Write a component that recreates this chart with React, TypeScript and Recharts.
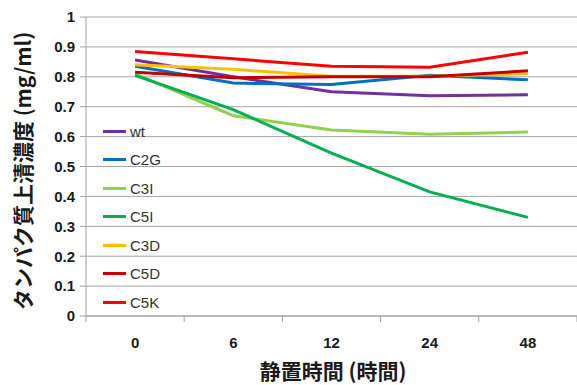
import { CartesianGrid, Legend, Line, LineChart, XAxis, YAxis } from "recharts";

const hours = ["0", "6", "12", "24", "48"];
const wt = [0.856, 0.8, 0.75, 0.737, 0.74];
const c2g = [0.835, 0.779, 0.774, 0.805, 0.79];
const c3i = [0.81, 0.67, 0.622, 0.608, 0.615];
const c5i = [0.805, 0.69, 0.545, 0.415, 0.33];
const c3d = [0.84, 0.825, 0.802, 0.802, 0.81];
const c5d = [0.815, 0.797, 0.8, 0.8, 0.82];
const c5k = [0.885, 0.86, 0.835, 0.832, 0.882];
const yTicks = [0, 0.1, 0.2, 0.3, 0.4, 0.5, 0.6, 0.7, 0.8, 0.9, 1];

const series = [
  { key: "wt", values: wt, color: "#7030A0" },
  { key: "C2G", values: c2g, color: "#0070C0" },
  { key: "C3I", values: c3i, color: "#92D050" },
  { key: "C5I", values: c5i, color: "#00B050" },
  { key: "C3D", values: c3d, color: "#FFC000" },
  { key: "C5D", values: c5d, color: "#C00000" },
  { key: "C5K", values: c5k, color: "#FF0000" },
];

const data = hours.map((h, i) => {
  const row: Record<string, string | number> = { hour: h };
  series.forEach((s) => (row[s.key] = s.values[i]));
  return row;
});

// plot area runs from x=86 to the right edge
const halfBand = (577 - 86) / hours.length / 2;
const cjk = "'Noto Sans CJK JP', sans-serif";

const XTick = (props: any) => {
  const { x, y, payload, index } = props;
  return (
    <g>
      <line x1={x - halfBand} y1={y} x2={x - halfBand} y2={y + 6} stroke="#A0A0A0" />
      {index === hours.length - 1 && (
        <line x1={x + halfBand} y1={y} x2={x + halfBand} y2={y + 6} stroke="#A0A0A0" />
      )}
      <text x={x} y={y + 32} textAnchor="middle" fill="#1a1a1a" fontSize={15} fontWeight="bold">
        {payload.value}
      </text>
    </g>
  );
};

const YTitle = () => (
  <text
    x={31}
    y={171}
    transform="rotate(-90 31 171)"
    textAnchor="middle"
    fill="#1a1a1a"
    fontSize={21}
    fontWeight="bold"
    fontFamily={cjk}
  >
    タンパク質上清濃度 (mg/ml)
  </text>
);

const XTitle = () => (
  <text x={333} y={379} textAnchor="middle" fill="#1a1a1a" fontSize={21} fontWeight="bold" fontFamily={cjk}>
    静置時間 (時間)
  </text>
);

const LegendBox = () => (
  <div style={{ fontFamily: "'Liberation Sans', sans-serif", fontSize: 15, color: "#333" }}>
    {series.map((s) => (
      <div key={s.key} style={{ display: "flex", alignItems: "center", height: 28.5 }}>
        <span style={{ display: "inline-block", width: 23, height: 3, background: s.color, marginRight: 4 }} />
        <span>{s.key}</span>
      </div>
    ))}
  </div>
);

export default function App() {
  return (
    <div style={{ position: "absolute", left: 0, top: 0, width: 577, height: 385, background: "#fff" }}>
      <LineChart
        width={577}
        height={385}
        data={data}
        margin={{ top: 17, right: 0, left: 0, bottom: 0 }}
        style={{ fontFamily: "'Liberation Sans', sans-serif" }}
      >
        <CartesianGrid vertical={false} stroke="#A6A6A6" />
        <XAxis
          dataKey="hour"
          height={69}
          padding={{ left: halfBand, right: halfBand }}
          axisLine={{ stroke: "#A0A0A0" }}
          tickLine={false}
          tickSize={0}
          tickMargin={0}
          tick={<XTick />}
          interval={0}
          label={<XTitle />}
        />
        <YAxis
          width={86}
          domain={[0, 1]}
          ticks={yTicks}
          interval={0}
          axisLine={{ stroke: "#A0A0A0" }}
          tickLine={{ stroke: "#A0A0A0" }}
          tickSize={6}
          tickMargin={5}
          tick={{ fill: "#1a1a1a", fontSize: 15, fontWeight: "bold" }}
          tickFormatter={(v: number) => String(v)}
          label={<YTitle />}
        />
        <Legend
          layout="vertical"
          align="center"
          verticalAlign="middle"
          content={<LegendBox />}
          wrapperStyle={{ left: 103, top: 117, width: "auto" }}
        />
        {series.map((s) => (
          <Line
            key={s.key}
            dataKey={s.key}
            stroke={s.color}
            strokeWidth={3}
            dot={false}
            activeDot={false}
            isAnimationActive={false}
          />
        ))}
      </LineChart>
    </div>
  );
}
